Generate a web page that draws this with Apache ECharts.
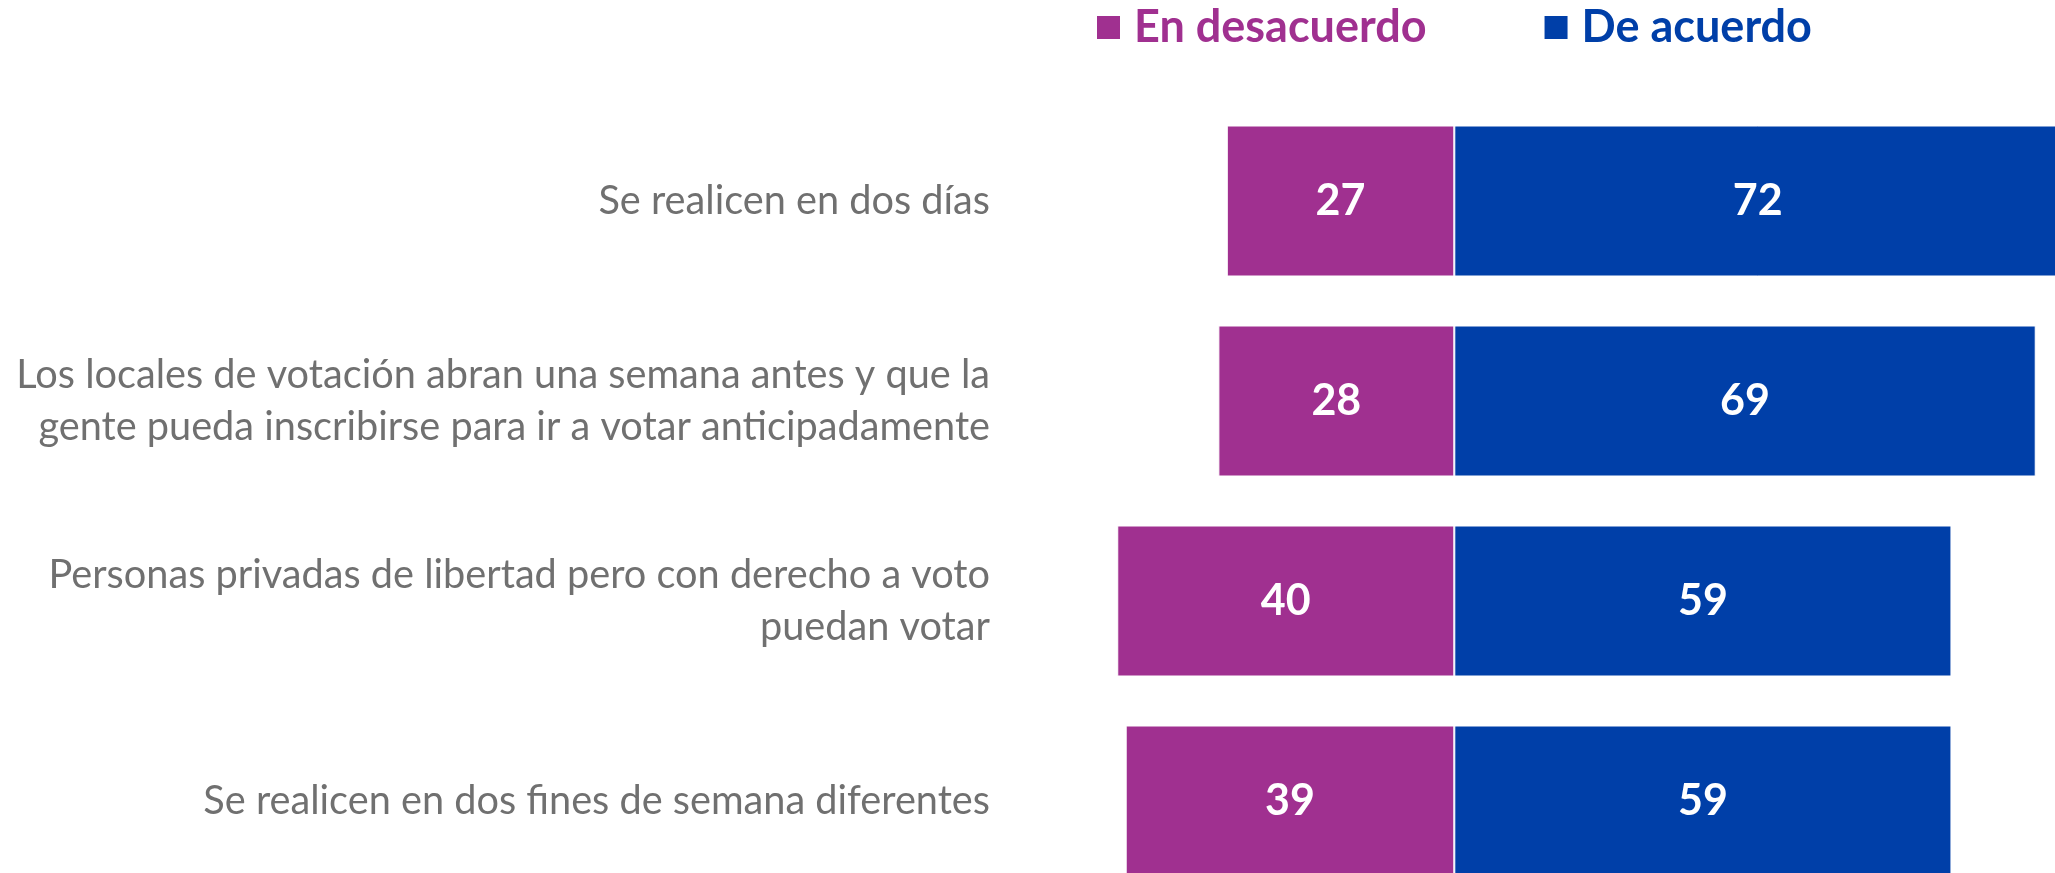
<!DOCTYPE html>
<html>
<head>
<meta charset="utf-8">
<title>Acuerdo con medidas de votación</title>
<script src="https://cdn.jsdelivr.net/npm/echarts@6/dist/echarts.min.js"></script>
<style>
  html, body { margin: 0; padding: 0; background: #fff; overflow: hidden; }
  /* el gráfico original queda cortado a la derecha y abajo, por eso el lienzo es más grande que la ventana */
  #chart { width: 2100px; height: 920px; }
</style>
</head>
<body>
<div id="chart"></div>
<script>
// categorias (de arriba hacia abajo)
const categorias = [
  'Se realicen en dos días',
  'Los locales de votación abran una semana antes y que la\ngente pueda inscribirse para ir a votar anticipadamente',
  'Personas privadas de libertad pero con derecho a voto\npuedan votar',
  'Se realicen en dos fines de semana diferentes'
]
const enDesacuerdo = [27, 28, 40, 39]
const deAcuerdo = [72, 69, 59, 59]

const colorDesacuerdo = '#A03090'
const colorAcuerdo = '#003FA8'

const myChart = echarts.init(document.getElementById('chart'))

const etiquetaValor = {
  show: true,
  position: 'inside',
  color: '#fff',
  fontFamily: 'Lato',
  fontWeight: 'bold',
  fontSize: 43,
  formatter: p => Math.abs(p.value)
}

const option = {
  animation: false,
  legend: {
    left: 1090,
    top: 0,
    icon: 'rect',
    itemWidth: 25,
    itemHeight: 25,
    itemGap: 116,
    selectedMode: false,
    data: [
      { name: 'En desacuerdo', textStyle: { color: colorDesacuerdo } },
      { name: 'De acuerdo', textStyle: { color: colorAcuerdo } }
    ],
    textStyle: {
      fontFamily: 'Lato',
      fontWeight: 'bold',
      fontSize: 45,
      padding: [0, 0, 0, 8]
    }
  },
  grid: {
    left: 1033,
    top: 101,
    width: 1028,
    height: 800,
    outerBoundsMode: 'none',
    containLabel: false
  },
  xAxis: {
    type: 'value',
    min: -50,
    max: 72,
    show: false
  },
  yAxis: {
    type: 'category',
    inverse: true,
    data: categorias,
    axisLine: { show: false },
    axisTick: { show: false },
    splitLine: { show: false },
    axisLabel: {
      margin: 43,
      align: 'right',
      color: '#707070',
      fontFamily: 'Lato',
      fontSize: 39.7,
      lineHeight: 52
    }
  },
  series: [
    {
      name: 'En desacuerdo',
      type: 'bar',
      stack: 'total',
      barCategoryGap: '24.5%',
      data: enDesacuerdo.map(v => -v),
      itemStyle: { color: colorDesacuerdo, borderColor: '#fff', borderWidth: 1 },
      label: etiquetaValor
    },
    {
      name: 'De acuerdo',
      type: 'bar',
      stack: 'total',
      barCategoryGap: '24.5%',
      data: deAcuerdo,
      itemStyle: { color: colorAcuerdo, borderColor: '#fff', borderWidth: 1 },
      label: etiquetaValor
    }
  ]
}

option && myChart.setOption(option)
</script>
</body>
</html>
